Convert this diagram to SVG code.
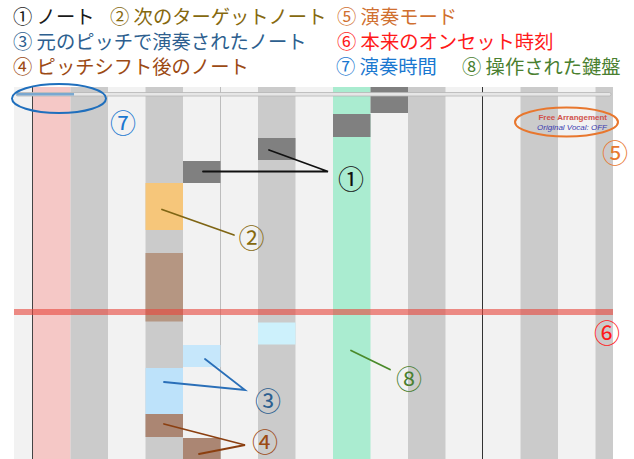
<svg xmlns="http://www.w3.org/2000/svg" width="634" height="459" viewBox="0 0 634 459">
<style>
.lg{font-family:"Noto Sans CJK JP","Noto Sans",sans-serif;font-size:19.3px}
.cl{font-family:"Noto Sans CJK JP","Noto Sans",sans-serif;font-size:26px;text-anchor:middle;dominant-baseline:central}
.lt{fill:#f2f2f2}
.dk{fill:#cbcbcb}
.note{fill:#808080}
.ld{fill:none;stroke-width:1.8;stroke-linecap:round}
</style>
<rect width="634" height="459" fill="#fff"/>
<g id="legend">
<text class="lg" x="13" y="24" fill="#1a1a1a">① ノート</text>
<text class="lg" x="110" y="24" fill="#86690f">② 次のターゲットノート</text>
<text class="lg" x="13" y="49" fill="#2d5f8f">③ 元のピッチで演奏されたノート</text>
<text class="lg" x="13" y="74" fill="#9c4a14">④ ピッチシフト後のノート</text>
<text class="lg" x="337" y="24" fill="#d07030">⑤ 演奏モード</text>
<text class="lg" x="337" y="49" fill="#ff1a1a">⑥ 本来のオンセット時刻</text>
<text class="lg" x="336" y="74" fill="#1a78d0">⑦ 演奏時間</text>
<text class="lg" x="462" y="74" fill="#4a8030">⑧ 操作された鍵盤</text>
</g>
<g id="keyboard">
<rect class="lt" x="14" y="87" width="599" height="372"/>
<rect x="33" y="87" width="37.5" height="372" fill="#f5c8c6"/>
<rect class="dk" x="70.5" y="87" width="37.5" height="372"/>
<rect class="dk" x="145.5" y="87" width="37.5" height="372"/>
<rect class="dk" x="258" y="87" width="37.5" height="372"/>
<rect x="333" y="87" width="37.5" height="372" fill="#aaecd0"/>
<rect class="dk" x="408" y="87" width="37.5" height="372"/>
<rect class="dk" x="520.5" y="87" width="37.5" height="372"/>
<rect class="dk" x="595.5" y="87" width="17.5" height="372"/>
<line x1="32.5" y1="87" x2="32.5" y2="459" stroke="#444" stroke-width="1"/>
<line x1="220.5" y1="87" x2="220.5" y2="459" stroke="#bdbdbd" stroke-width="1"/>
<line x1="482.5" y1="87" x2="482.5" y2="459" stroke="#333" stroke-width="1"/>
</g>
<g id="notes">
<rect class="note" x="183" y="161" width="37.5" height="22"/>
<rect class="note" x="258" y="138" width="37.5" height="22"/>
<rect class="note" x="333" y="114" width="37.5" height="23"/>
<rect class="note" x="370.5" y="87" width="37.5" height="26"/>
</g>
<g id="target-note"><rect x="145.5" y="183" width="37.5" height="47" fill="#f6c67a"/></g>
<g id="played-notes">
<rect x="145.5" y="368" width="37.5" height="46" fill="#bde2fa"/>
<rect x="183" y="345" width="37.5" height="22" fill="#c6e7fb"/>
<rect x="258" y="322.5" width="37.5" height="22" fill="#cdf1fc"/>
</g>
<g id="shifted-notes">
<rect x="145.5" y="253" width="37.5" height="68.5" fill="#b59682"/>
<rect x="145.5" y="414" width="37.5" height="23" fill="#ab8673"/>
<rect x="183" y="438" width="37.5" height="21" fill="#ab8673"/>
</g>
<g id="onset-line"><rect x="14" y="309" width="599" height="6" fill="#e8453a" opacity="0.6"/></g>
<g id="progress">
<rect x="16" y="92.5" width="595" height="3.5" rx="1.7" fill="#e6e6e6" stroke="#b5b5b5" stroke-width="0.8"/>
<rect x="16.5" y="93" width="57.5" height="2.5" fill="#7aa8d0"/>
<ellipse cx="59" cy="98.5" rx="47" ry="14.5" fill="none" stroke="#1f6fbd" stroke-width="2"/>
</g>
<g id="mode">
<text x="607" y="119.5" text-anchor="end" font-family="Liberation Sans, Arial, sans-serif" font-size="8" font-weight="bold" fill="#d0504a">Free Arrangement</text>
<text x="607" y="130" text-anchor="end" font-family="Liberation Sans, Arial, sans-serif" font-size="8" font-style="italic" fill="#3a3ab0">Original Vocal: OFF</text>
<ellipse cx="566.5" cy="122" rx="51.5" ry="14.5" fill="none" stroke="#e8772e" stroke-width="2"/>
</g>
<g id="connectors">
<polyline class="ld" points="203,171.5 328,171.5 269,150" stroke="#111"/>
<line class="ld" x1="162" y1="209.5" x2="234" y2="235" stroke="#7f6514"/>
<polyline class="ld" points="164,382 245,390 205,359" stroke="#2a6fb8"/>
<polyline class="ld" points="164,424 245,445 199,454" stroke="#8b3f10"/>
<line class="ld" x1="351" y1="350.5" x2="390" y2="369.5" stroke="#4a8a2a"/>
</g>
<g id="labels">
<text class="cl" x="351" y="177.5" fill="#111">①</text>
<text class="cl" x="251.5" y="236" fill="#86690f">②</text>
<text class="cl" x="268" y="399" fill="#2d5f8f">③</text>
<text class="cl" x="265" y="440" fill="#9c4a14">④</text>
<text class="cl" x="615" y="151.5" fill="#e8772e">⑤</text>
<text class="cl" x="607" y="331" fill="#ff1a1a">⑥</text>
<text class="cl" x="123" y="121" fill="#1a78d0">⑦</text>
<text class="cl" x="409" y="377" fill="#4a8030">⑧</text>
</g>
</svg>
